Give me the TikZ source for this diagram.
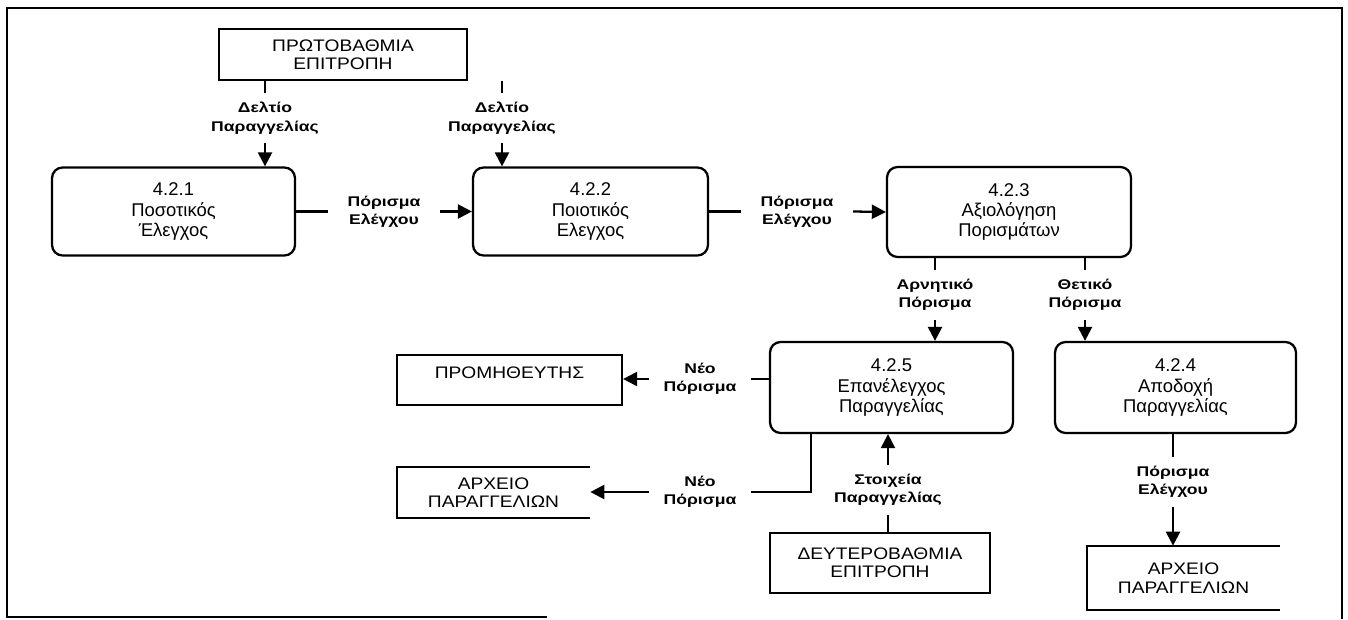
\documentclass[tikz,border=0pt]{standalone}
\usepackage{fontspec}
\setmainfont{Liberation Sans}
\newfontfamily\extfam{Liberation Sans}[FakeStretch=1.15]
\newfontfamily\lblfam{Liberation Sans}[FakeStretch=1.25]
\usetikzlibrary{arrows.meta}

\tikzset{
  proc/.style={draw, line width=1.3pt, rounded corners=6pt, inner sep=0pt,
               align=center, font=\fontsize{10.5}{11.5}\selectfont},
  ext/.style={draw, line width=1.3pt, inner sep=0pt, align=center,
              font=\extfam\fontsize{9.5}{10.5}\selectfont},
  store/.style={inner sep=0pt, align=center,
                font=\extfam\fontsize{9.5}{10.5}\selectfont},
  lbl/.style={inner xsep=2pt, inner ysep=5pt, align=center,
              font=\lblfam\bfseries\fontsize{8}{10.5}\selectfont},
}

\begin{document}
\begin{tikzpicture}[x=0.02cm, y=-0.02cm]
\useasboundingbox (0,0) rectangle (1348,619);
% frame
\draw[line width=1.3pt] (547,617) -- (7,617) -- (7,8) -- (1342,8) -- (1342,619);

\begin{scope}[every node/.style={proc}]
    \node[minimum width=4.86cm, minimum height=1.76cm] (p421) at (173.5,211.5) {4.2.1\\Ποσοτικός\\Έλεγχος};
    \node[minimum width=4.70cm, minimum height=1.76cm] (p422) at (590.5,211.5) {4.2.2\\Ποιοτικός\\Ελεγχος};
    \node[minimum width=4.88cm, minimum height=1.80cm] (p423) at (1009,212) {4.2.3\\Αξιολόγηση\\Πορισμάτων};
    \node[minimum width=4.86cm, minimum height=1.82cm] (p425) at (891.5,387.5) {4.2.5\\Επανέλεγχος\\Παραγγελίας};
    \node[minimum width=4.82cm, minimum height=1.82cm] (p424) at (1175.5,387.5) {4.2.4\\Αποδοχή\\Παραγγελίας};
\end{scope}

\begin{scope}[every node/.style={ext}]
    \node[minimum width=4.96cm, minimum height=1.02cm] (prim) at (343,54.5) {ΠΡΩΤΟΒΑΘΜΙΑ\\ΕΠΙΤΡΟΠΗ};
    \node[minimum width=4.50cm, minimum height=1.00cm, text depth=8pt] (supp) at (509.5,380) {ΠΡΟΜΗΘΕΥΤΗΣ};
    \node[minimum width=4.40cm, minimum height=1.20cm] (sec) at (880,563) {ΔΕΥΤΕΡΟΒΑΘΜΙΑ\\ΕΠΙΤΡΟΠΗ};
\end{scope}

% data stores, open on the right
\begin{scope}[every node/.style={store}]
    \node[minimum width=3.86cm, minimum height=1.02cm] (arch1) at (493.5,492.5) {ΑΡΧΕΙΟ\\ΠΑΡΑΓΓΕΛΙΩΝ};
    \node[minimum width=3.86cm, minimum height=1.28cm] (arch2) at (1183.5,578) {ΑΡΧΕΙΟ\\ΠΑΡΑΓΓΕΛΙΩΝ};
\end{scope}
\draw[line width=1.3pt] (arch1.north east) -- (arch1.north west) -- (arch1.south west) -- (arch1.south east);
\draw[line width=1.3pt] (arch2.north east) -- (arch2.north west) -- (arch2.south west) -- (arch2.south east);

\begin{scope}[every node/.style={lbl}]
    \node (l1) at (265,118) {Δελτίο\\Παραγγελίας};
    \node (l2) at (502,118) {Δελτίο\\Παραγγελίας};
    \node[inner xsep=11pt] (l3) at (384,211.5) {Πόρισμα\\Ελέγχου};
    \node[inner xsep=11pt] (l4) at (797,211.5) {Πόρισμα\\Ελέγχου};
    \node (l5) at (935,295) {Αρνητικό\\Πόρισμα};
    \node (l6) at (1085,295) {Θετικό\\Πόρισμα};
    \node[inner xsep=8pt] (l7) at (700,379) {Νέο\\Πόρισμα};
    \node[inner xsep=8pt] (l8) at (700,492) {Νέο\\Πόρισμα};
    \node (l9) at (888,490) {Στοιχεία\\Παραγγελίας};
    \node (l10) at (1173,482) {Πόρισμα\\Ελέγχου};
\end{scope}

\begin{scope}[>={Triangle[length=8pt,width=8pt]},
              every edge/.style={draw, line width=1.3pt}]
    \path (l1.north |- prim.south) edge (l1.north);
    \path [->] (l1.south) edge (l1.south |- p421.north);
    \path (l2.north |- prim.south) edge (l2.north);
    \path [->] (l2.south) edge (l2.south |- p422.north);
    \path (p421.east) edge (l3.west);
    \path [->] (l3.east) edge (p422.west);
    \path (p422.east) edge (l4.west);
    \path [->] (l4.east) edge (p423.west);
    \path (l5.north |- p423.south) edge (l5.north);
    \path [->] (l5.south) edge (l5.south |- p425.north);
    \path (l6.north |- p423.south) edge (l6.north);
    \path [->] (l6.south) edge (l6.south |- p424.north);
    \path (l7.east -| p425.west) edge (l7.east);
    \path [->] (l7.west) edge (l7.west -| supp.east);
    \path ([xshift=0.84cm]p425.south west) edge[to path={|- (\tikztotarget)}] (l8.east);
    \path [->] (l8.west) edge (l8.west -| arch1.east);
    \path [->] (l9.north) edge (l9.north |- p425.south);
    \path (sec.north -| l9.south) edge (l9.south);
    \path (l10.north |- p424.south) edge (l10.north);
    \path [->] (l10.south) edge (l10.south |- arch2.north);
\end{scope}
\end{tikzpicture}
\end{document}
